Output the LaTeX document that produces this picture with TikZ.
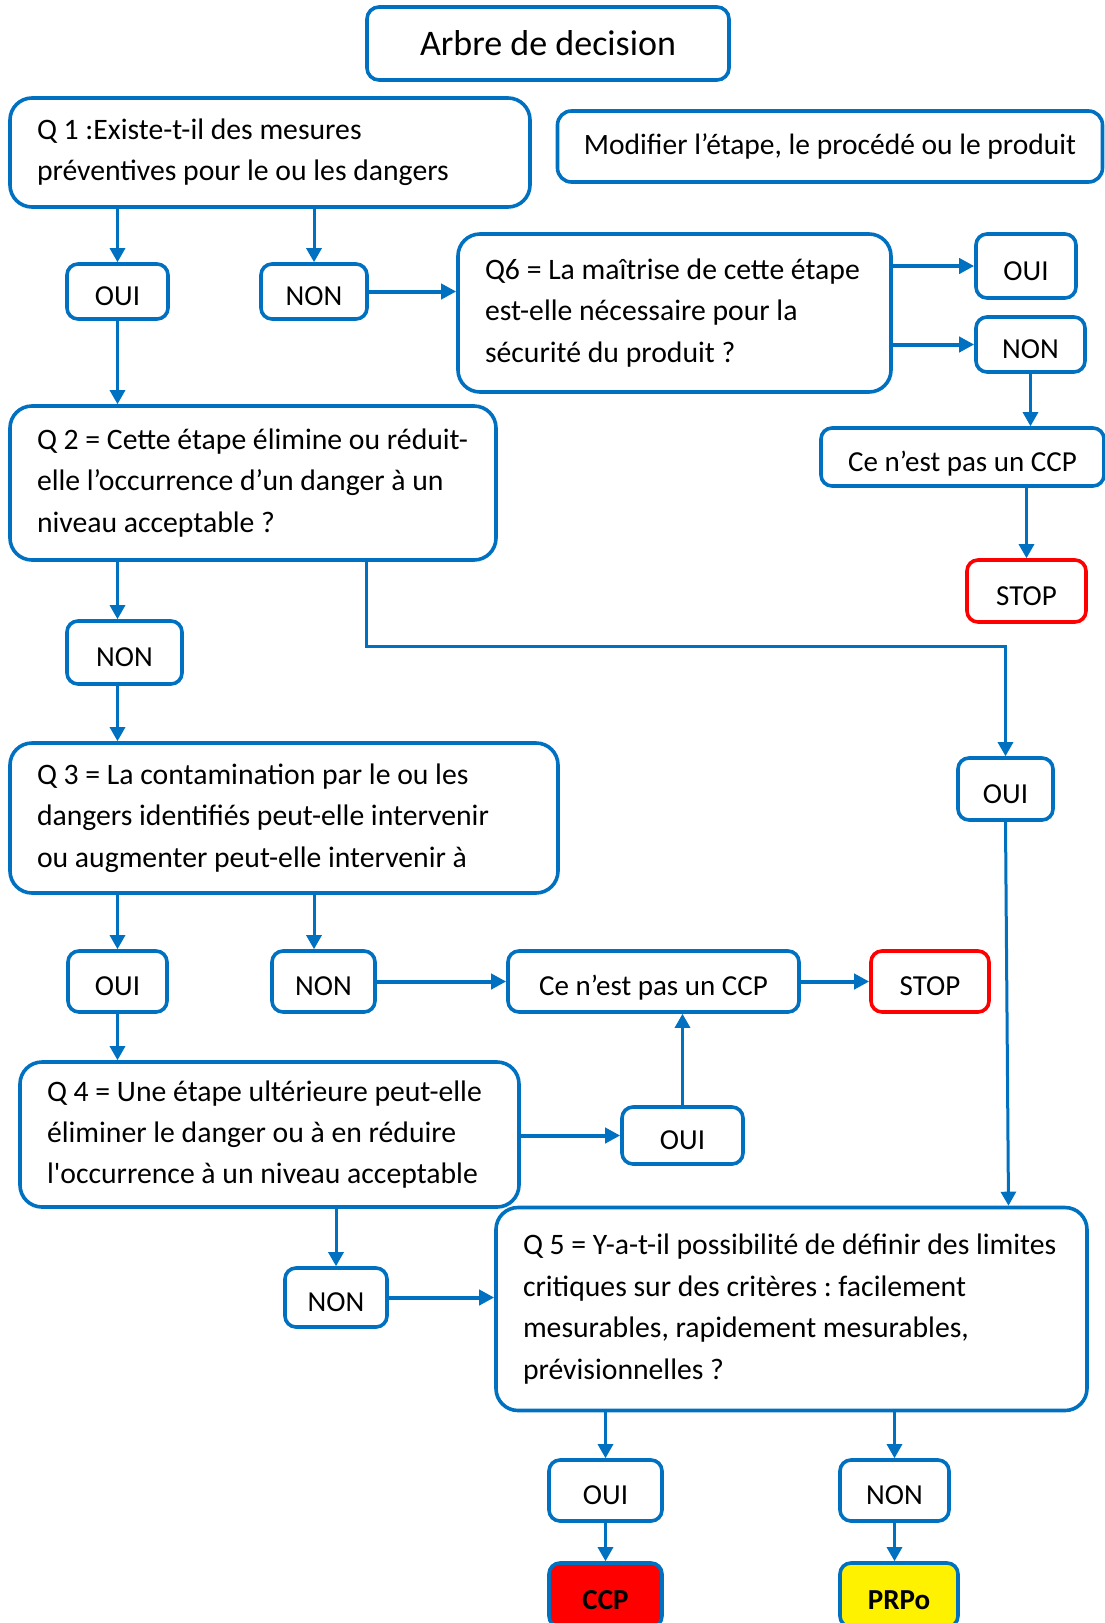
\documentclass[tikz,border=0pt]{standalone}
\usepackage{fontspec}
\setmainfont{Carlito}
\frenchspacing
\usetikzlibrary{arrows.meta}
\definecolor{hblue}{RGB}{0,112,192}
\tikzset{
  qbox/.style={draw=hblue, rectangle, rounded corners=22pt, line width=3.6pt, align=left, inner xsep=27pt, font=\fontsize{29.7}{41.4}\selectfont, execute at begin node={\spaceskip=0pt\relax}},
  plainbox/.style={draw=hblue, rectangle, rounded corners=11pt, line width=3.6pt, font=\fontsize{29}{35}\selectfont},
  ansbox/.style={plainbox, text height=28pt, text depth=0pt},
  stopbox/.style={ansbox, draw=red},
  vwire/.style={draw=hblue, line width=3pt, -{Triangle[length=14pt,width=15pt]}},
  hwire/.style={draw=hblue, line width=4pt, -{Triangle[length=15pt,width=15pt]}}
}

\begin{document}
\begin{tikzpicture}[x=1pt,y=-1pt]
    \useasboundingbox (0,0) rectangle (1104,1623);
    \node[plainbox, minimum width=362pt, minimum height=73pt, rounded corners=12pt, font=\fontsize{36}{40}\selectfont] (titre) at (548,43.5) {Arbre de decision};

    \node[qbox, minimum width=520pt, minimum height=109pt, text width=466pt] (q1) at (270,152.5) {Q 1 :Existe-t-il des mesures\\ préventives pour le ou les dangers};
    \node[plainbox, minimum width=545pt, minimum height=71pt, rounded corners=14pt, font=\fontsize{29.5}{35}\selectfont] (modif) at (830,146.5) {Modifier l’étape, le procédé ou le produit};
    \node[ansbox, minimum width=101pt, minimum height=55pt] (oui1) at (117.5,291.5) {OUI};
    \node[ansbox, minimum width=106pt, minimum height=55pt] (non1) at (314,291.5) {NON};

    \node[qbox, minimum width=433pt, minimum height=158pt, text width=379pt] (q6) at (674.5,313) {Q6 = La maîtrise de cette étape\\ est-elle nécessaire pour la\\ sécurité du produit ?};
    \node[ansbox, minimum width=100pt, minimum height=64pt] (oui6) at (1026,266) {OUI};
    \node[ansbox, minimum width=109pt, minimum height=55pt] (non6) at (1030.5,344.5) {NON};
    \node[ansbox, minimum width=283pt, minimum height=58pt] (ccpa) at (962.5,457) {Ce n’est pas un CCP};
    \node[stopbox, minimum width=119pt, minimum height=62pt] (stopa) at (1026.5,591) {STOP};

    \node[qbox, minimum width=486pt, minimum height=154pt, text width=432pt] (q2) at (253,483) {Q 2 = Cette étape élimine ou réduit-\\ elle l’occurrence d’un danger à un\\ niveau acceptable ?};
    \node[ansbox, minimum width=115pt, minimum height=63pt] (non2) at (124.5,652.5) {NON};
    \node[ansbox, minimum width=95pt, minimum height=62pt] (oui2) at (1005.5,789) {OUI};

    \node[qbox, minimum width=548pt, minimum height=150pt, text width=494pt] (q3) at (284,818) {Q 3 = La contamination par le ou les\\ dangers identifiés peut-elle intervenir\\ ou augmenter peut-elle intervenir à};
    \node[ansbox, minimum width=99pt, minimum height=61pt] (oui3) at (117.5,981.5) {OUI};
    \node[ansbox, minimum width=103pt, minimum height=61pt] (non3) at (323.5,981.5) {NON};
    \node[ansbox, minimum width=291pt, minimum height=61pt] (ccpb) at (653.5,981.5) {Ce n’est pas un CCP};
    \node[stopbox, minimum width=118pt, minimum height=61pt] (stopb) at (930,981.5) {STOP};

    \node[qbox, minimum width=499pt, minimum height=145pt, text width=445pt] (q4) at (269.5,1134.5) {Q 4 = Une étape ultérieure peut-elle\\ éliminer le danger ou à en réduire\\ l\textquotesingle occurrence à un niveau acceptable};
    \node[ansbox, minimum width=121pt, minimum height=57pt] (oui4) at (682.5,1135.5) {OUI};
    \node[ansbox, minimum width=102pt, minimum height=59pt] (non4) at (336,1297.5) {NON};

    \node[qbox, minimum width=591pt, minimum height=203pt, text width=537pt] (q5) at (791.5,1309) {Q 5 = Y-a-t-il possibilité de définir des limites\\ critiques sur des critères : facilement\\ mesurables, rapidement mesurables,\\ prévisionnelles ?};
    \node[ansbox, minimum width=113pt, minimum height=61pt] (oui5) at (605.5,1490.5) {OUI};
    \node[ansbox, minimum width=109pt, minimum height=61pt] (non5) at (894.5,1490.5) {NON};
    \node[ansbox, fill=red, minimum width=113pt, minimum height=64pt, font=\fontsize{29}{35}\selectfont\bfseries] (ccp) at (605.5,1595) {CCP};
    \node[ansbox, fill=yellow, minimum width=118pt, minimum height=64pt, font=\fontsize{29}{35}\selectfont\bfseries] (prpo) at (899,1595) {PRPo};

    % Q1, Q6
    \draw[vwire] (q1.south -| oui1) -- (oui1.north);
    \draw[vwire] (q1.south -| non1) -- (non1.north);
    \draw[hwire] (non1.east) -- (non1.east -| q6.west);
    \draw[hwire] (q6.east |- oui6) -- (oui6.west);
    \draw[hwire] (q6.east |- non6) -- (non6.west);
    \draw[vwire] (non6.south) -- (non6.south |- ccpa.north);
    \draw[vwire] (ccpa.south -| stopa) -- (stopa.north);
    % Q2, Q3
    \draw[vwire] (oui1.south) -- (oui1.south |- q2.north);
    \draw[vwire] (q2.south -| oui1) -- (non2.north -| oui1);
    \draw[vwire] ([xshift=113pt]q2.south) -- ++(0,85) -| (oui2.north);
    \draw[vwire] (non2.south -| oui1) -- (q3.north -| oui1);
    \draw[vwire] (q3.south -| oui3) -- (oui3.north);
    \draw[vwire] (q3.south -| non1) -- (non3.north -| non1);
    \draw[hwire] (non3) -- (ccpb);
    \draw[hwire] (ccpb) -- (stopb);
    % Q4, Q5
    \draw[vwire] (oui3.south) -- (oui3.south |- q4.north);
    \draw[hwire] (q4.east |- oui4) -- (oui4.west);
    \draw[vwire] (oui4.north) -- (oui4.north |- ccpb.south);
    \draw[vwire] (oui2.south) -- ([xshift=217pt]q5.north);
    \draw[vwire] (q4.south -| non4) -- (non4.north);
    \draw[hwire] (non4.east) -- (non4.east -| q5.west);
    \draw[vwire] (q5.south -| oui5) -- (oui5.north);
    \draw[vwire] (q5.south -| non5) -- (non5.north);
    \draw[vwire] (oui5) -- (ccp);
    \draw[vwire] (non5.south) -- (non5.south |- prpo.north);
\end{tikzpicture}
\end{document}
